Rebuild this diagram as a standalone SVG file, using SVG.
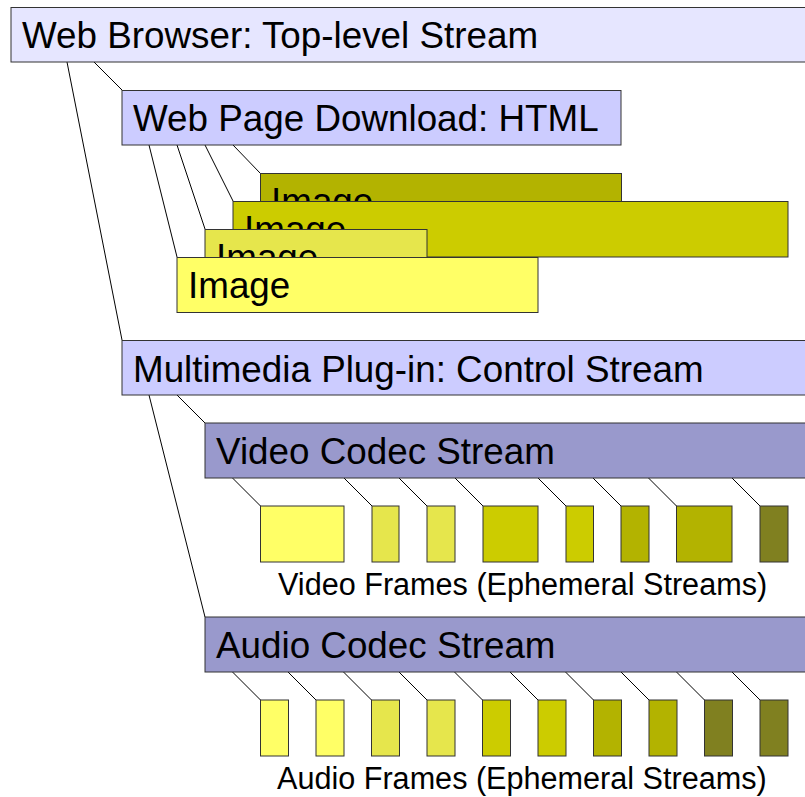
<svg xmlns="http://www.w3.org/2000/svg" width="805" height="797" viewBox="0 0 805 797">
<style>
.n{stroke:#333;stroke-width:1}
.l{stroke:#000;stroke-width:1;fill:none}
text{font-family:"Liberation Sans",Arial,sans-serif;fill:#000}
.big{font-size:36.8px}
.sm{font-size:30.6px}
.c1{fill:#ffff66}.c2{fill:#e6e64c}.c3{fill:#cccc00}.c4{fill:#b3b300}.c5{fill:#808020}
</style>
<rect width="805" height="797" fill="#fff"/>
<g id="connectors" class="l">
<line x1="67" y1="62" x2="122" y2="340"/>
<line x1="94" y1="62" x2="122" y2="90"/>
<line x1="149" y1="145" x2="177" y2="257"/>
<line x1="177" y1="145" x2="205" y2="229"/>
<line x1="205" y1="145" x2="233" y2="201"/>
<line x1="233" y1="145" x2="260" y2="173"/>
<line x1="177" y1="395" x2="205" y2="423"/>
<line x1="149" y1="395" x2="205" y2="617"/>
<line x1="232.5" y1="478" x2="260.5" y2="506"/>
<line x1="344" y1="478" x2="372" y2="506"/>
<line x1="399" y1="478" x2="427" y2="506"/>
<line x1="455" y1="478" x2="483" y2="506"/>
<line x1="538" y1="478" x2="566" y2="506"/>
<line x1="593" y1="478" x2="621" y2="506"/>
<line x1="648.5" y1="478" x2="676.5" y2="506"/>
<line x1="732" y1="478" x2="760" y2="506"/>
<line x1="232.5" y1="672" x2="260.5" y2="700"/>
<line x1="288" y1="672" x2="316" y2="700"/>
<line x1="343.5" y1="672" x2="371.5" y2="700"/>
<line x1="399" y1="672" x2="427" y2="700"/>
<line x1="454.5" y1="672" x2="482.5" y2="700"/>
<line x1="510" y1="672" x2="538" y2="700"/>
<line x1="565.5" y1="672" x2="593.5" y2="700"/>
<line x1="621" y1="672" x2="649" y2="700"/>
<line x1="676.5" y1="672" x2="704.5" y2="700"/>
<line x1="732" y1="672" x2="760" y2="700"/>
</g>
<g id="web-browser"><rect class="n" x="11" y="7.5" width="800" height="54.5" fill="#e6e6ff"/><text class="big" x="22" y="48">Web Browser: Top-level Stream</text></g>
<g id="web-page"><rect class="n" x="122" y="90.5" width="499" height="54.5" fill="#ccccff"/><text class="big" x="133" y="131">Web Page Download: HTML</text></g>
<g id="image4"><rect class="n c4" x="260.5" y="173.5" width="361" height="55"/><text class="big" x="271" y="214">Image</text></g>
<g id="image3"><rect class="n c3" x="233" y="201.5" width="555" height="55.5"/><text class="big" x="244" y="242">Image</text></g>
<g id="image2"><rect class="n c2" x="205" y="229.5" width="222" height="55"/><text class="big" x="216" y="270">Image</text></g>
<g id="image1"><rect class="n c1" x="177" y="257.5" width="361" height="55"/><text class="big" x="188" y="298">Image</text></g>
<g id="multimedia"><rect class="n" x="122" y="340.5" width="700" height="54.5" fill="#ccccff"/><text class="big" x="133" y="382">Multimedia Plug-in: Control Stream</text></g>
<g id="video-codec"><rect class="n" x="205" y="423" width="620" height="55" fill="#9999cc"/><text class="big" x="216" y="464">Video Codec Stream</text></g>
<g id="video-frames">
<rect class="n c1" x="260.5" y="506" width="83.5" height="56"/>
<rect class="n c2" x="372" y="506" width="27" height="56"/>
<rect class="n c2" x="427" y="506" width="28" height="56"/>
<rect class="n c3" x="483" y="506" width="55" height="56"/>
<rect class="n c3" x="566" y="506" width="27.5" height="56"/>
<rect class="n c4" x="621" y="506" width="28" height="56"/>
<rect class="n c4" x="676.5" y="506" width="55.5" height="56"/>
<rect class="n c5" x="760" y="506" width="28" height="56"/>
<text class="sm" x="278" y="595">Video Frames (Ephemeral Streams)</text>
</g>
<g id="audio-codec"><rect class="n" x="205" y="617" width="620" height="55" fill="#9999cc"/><text class="big" x="216" y="658">Audio Codec Stream</text></g>
<g id="audio-frames">
<rect class="n c1" x="260.5" y="700" width="28" height="56"/>
<rect class="n c1" x="316" y="700" width="28" height="56"/>
<rect class="n c2" x="371.5" y="700" width="28" height="56"/>
<rect class="n c2" x="427" y="700" width="28" height="56"/>
<rect class="n c3" x="482.5" y="700" width="28" height="56"/>
<rect class="n c3" x="538" y="700" width="28" height="56"/>
<rect class="n c4" x="593.5" y="700" width="28" height="56"/>
<rect class="n c4" x="649" y="700" width="28" height="56"/>
<rect class="n c5" x="704.5" y="700" width="28" height="56"/>
<rect class="n c5" x="760" y="700" width="28" height="56"/>
<text class="sm" x="277" y="789">Audio Frames (Ephemeral Streams)</text>
</g>
</svg>
